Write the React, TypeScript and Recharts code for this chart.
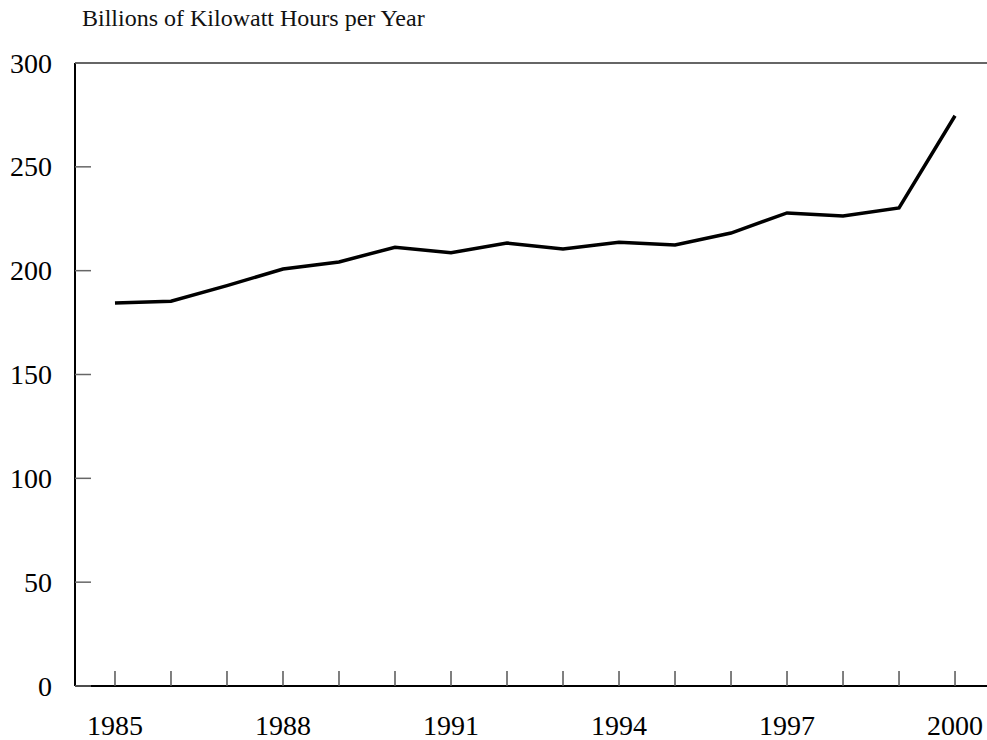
import React from 'react';
import { LineChart, Line, XAxis, YAxis, ReferenceLine } from 'recharts';

const years = [1985, 1986, 1987, 1988, 1989, 1990, 1991, 1992, 1993, 1994, 1995, 1996, 1997, 1998, 1999, 2000];
const generation = [184.4, 185.3, 192.8, 200.8, 204.2, 211.3, 208.6, 213.3, 210.4, 213.7, 212.4, 218.1, 227.8, 226.3, 230.2, 274.6];
const yTicks = [0, 50, 100, 150, 200, 250, 300];
const labelYears = [1985, 1988, 1991, 1994, 1997, 2000];

const data = years.map((year, i) => ({ year, value: generation[i] }));

const FONT = '"Liberation Serif", "Times New Roman", serif';

const YTick = (props: any) => {
  const { x, y, payload } = props;
  const margin = 23;
  return (
    <g>
      <line x1={x + margin} x2={x + margin + 16} y1={y} y2={y} stroke="#666" strokeWidth={1.5} />
      <text x={x} y={y} dy="0.34em" textAnchor="end" fontFamily={FONT} fontSize={28} fill="#000">
        {payload.value}
      </text>
    </g>
  );
};

const XTick = (props: any) => {
  const { x, y, payload } = props;
  const margin = 29;
  const show = labelYears.includes(payload.value);
  return (
    <g>
      <line x1={x} x2={x} y1={y - margin} y2={y - margin - 15} stroke="#555" strokeWidth={1.5} />
      {show && (
        <text x={x} y={y} dy="0.7em" textAnchor="middle" fontFamily={FONT} fontSize={28} fill="#000">
          {payload.value}
        </text>
      )}
    </g>
  );
};

export default function App() {
  return (
    <div style={{ position: 'absolute', left: 0, top: 0, width: 987, height: 740, background: '#fff' }}>
      <div
        style={{
          position: 'absolute',
          left: 82,
          top: 5,
          fontFamily: FONT,
          fontSize: 24,
          color: '#111',
          whiteSpace: 'nowrap',
        }}
      >
        Billions of Kilowatt Hours per Year
      </div>
      <LineChart width={987} height={740} data={data} margin={{ top: 63, right: 0, bottom: 0, left: 0 }}>
        <XAxis
          dataKey="year"
          type="number"
          domain={[1984.286, 2000.571]}
          ticks={years}
          interval={0}
          height={54}
          tickSize={0}
          tickMargin={29}
          tick={<XTick />}
          axisLine={{ stroke: '#000', strokeWidth: 2 }}
          tickLine={false}
        />
        <YAxis
          type="number"
          domain={[0, 300]}
          ticks={yTicks}
          width={75}
          tickSize={0}
          tickMargin={23}
          tick={<YTick />}
          axisLine={{ stroke: '#000', strokeWidth: 2 }}
          tickLine={false}
        />
        <ReferenceLine y={300} stroke="#666" strokeWidth={2} />
        <Line
          type="linear"
          dataKey="value"
          stroke="#000"
          strokeWidth={3.5}
          dot={false}
          isAnimationActive={false}
        />
      </LineChart>
    </div>
  );
}
